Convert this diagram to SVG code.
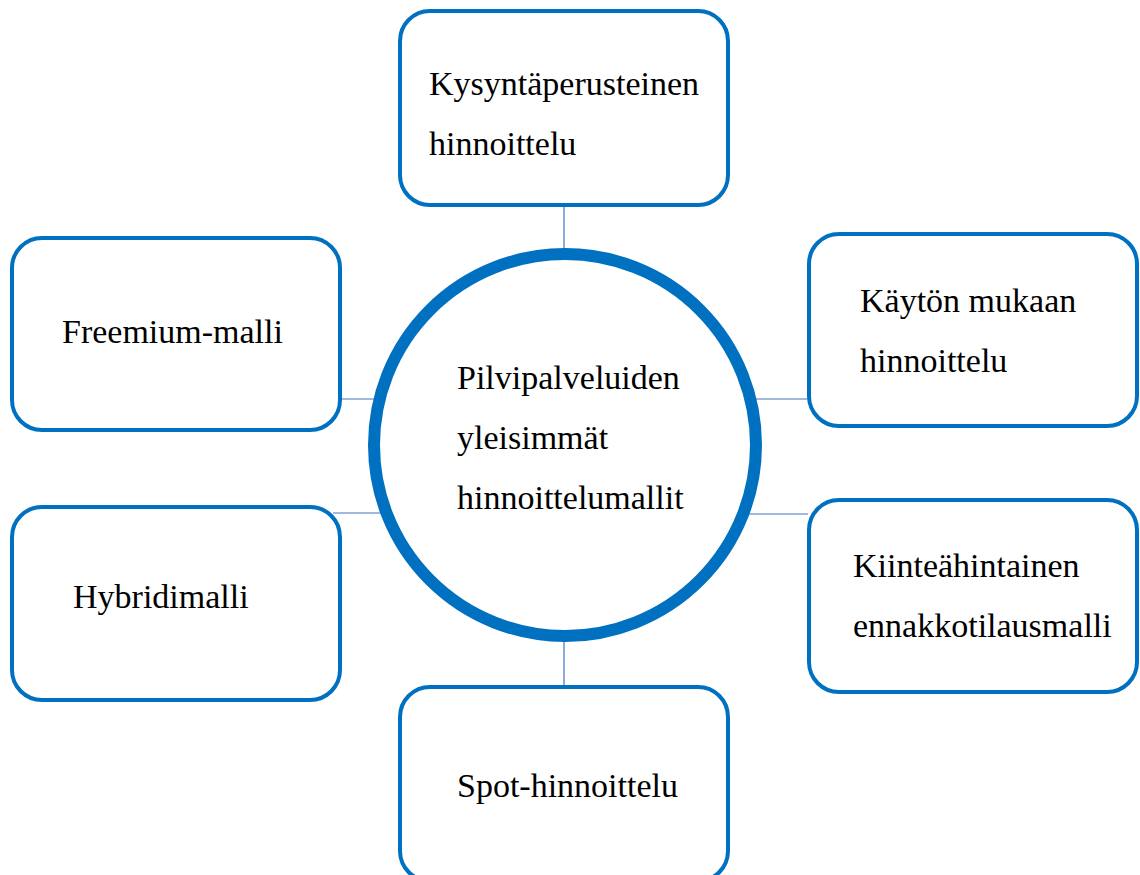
<svg xmlns="http://www.w3.org/2000/svg" width="1140" height="875" viewBox="0 0 1140 875">
<style>
.box{fill:#fff;stroke:#0070C0;stroke-width:4}
.hub{fill:#fff;stroke:#0070C0;stroke-width:12}
.con{stroke:#4472C4;stroke-width:1.2;fill:none}
text{font-family:"Liberation Serif","Times New Roman",serif;font-size:34px;fill:#000}
</style>
<rect width="1140" height="875" fill="#fff"/>
<g id="connectors">
<line class="con" x1="564" y1="207" x2="564" y2="254"/>
<line class="con" x1="564" y1="636" x2="564" y2="686"/>
<line class="con" x1="340" y1="399" x2="374" y2="399"/>
<line class="con" x1="333" y1="513" x2="384" y2="513"/>
<line class="con" x1="756" y1="399" x2="808" y2="399"/>
<line class="con" x1="746" y1="514" x2="808" y2="514"/>
</g>
<g id="hub">
<circle class="hub" cx="565" cy="445" r="191"/>
<text x="457" y="389">Pilvipalveluiden</text>
<text x="457" y="449">yleisimmät</text>
<text x="457" y="509">hinnoittelumallit</text>
</g>
<g id="n-top">
<rect class="box" x="400" y="11" width="328" height="194" rx="30"/>
<text x="429" y="95">Kysyntäperusteinen</text>
<text x="429" y="155">hinnoittelu</text>
</g>
<g id="n-freemium">
<rect class="box" x="12" y="238" width="328" height="192" rx="30"/>
<text x="62" y="343">Freemium-malli</text>
</g>
<g id="n-hybridi">
<rect class="box" x="12" y="507" width="328" height="193" rx="30"/>
<text x="73" y="608">Hybridimalli</text>
</g>
<g id="n-kayton">
<rect class="box" x="809" y="234" width="328" height="192" rx="30"/>
<text x="860" y="312">Käytön mukaan</text>
<text x="860" y="372">hinnoittelu</text>
</g>
<g id="n-kiintea">
<rect class="box" x="809" y="500" width="328" height="192" rx="30"/>
<text x="853" y="577">Kiinteähintainen</text>
<text x="853" y="637">ennakkotilausmalli</text>
</g>
<g id="n-spot">
<rect class="box" x="400" y="687" width="328" height="194" rx="30"/>
<text x="457" y="797">Spot-hinnoittelu</text>
</g>
</svg>
